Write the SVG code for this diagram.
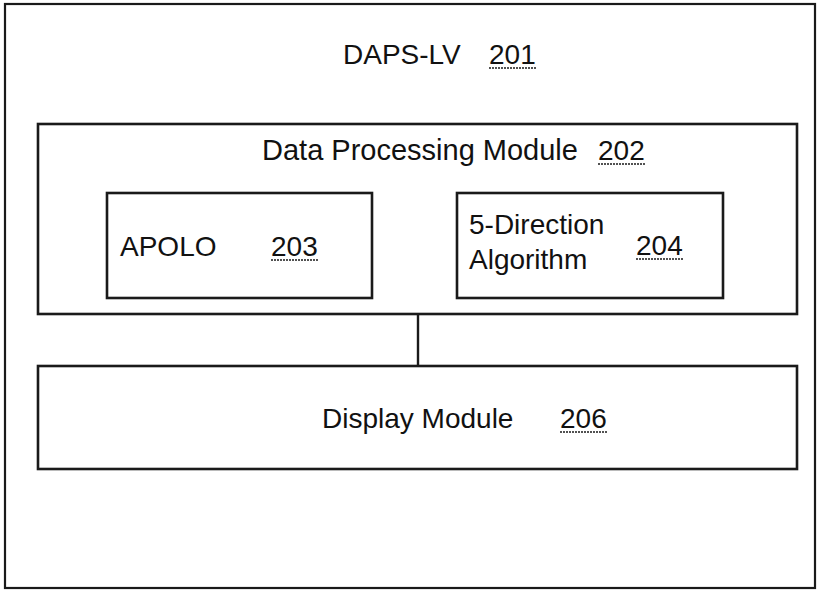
<svg xmlns="http://www.w3.org/2000/svg" width="817" height="590" viewBox="0 0 817 590">
<style>
.box{fill:none;stroke:#1a1a1a;stroke-width:2.6}
.outer{fill:none;stroke:#1a1a1a;stroke-width:2.2}
.t{font-family:"Liberation Sans",Arial,sans-serif;font-size:28px;fill:#111}
.u{stroke:#1a1a1a;stroke-width:1.6;stroke-dasharray:2 1}
.conn{stroke:#1a1a1a;stroke-width:2.4;fill:none}
</style>
<rect width="817" height="590" fill="#fff"/>
<g id="daps-lv">
<rect class="outer" x="5" y="4" width="810" height="584"/>
<text class="t" x="343" y="64">DAPS-LV</text>
<text class="t" x="489" y="64">201</text>
<line class="u" x1="489" y1="68" x2="536" y2="68"/>
</g>
<g id="data-processing-module">
<rect class="box" x="38" y="124" width="759" height="190"/>
<text class="t" x="262" y="160" style="font-size:29px">Data Processing Module</text>
<text class="t" x="598" y="160">202</text>
<line class="u" x1="598" y1="164" x2="645" y2="164"/>
</g>
<g id="apolo">
<rect class="box" x="107" y="193" width="265" height="105"/>
<text class="t" x="120" y="256">APOLO</text>
<text class="t" x="271" y="256">203</text>
<line class="u" x1="271" y1="260" x2="318" y2="260"/>
</g>
<g id="five-direction">
<rect class="box" x="457" y="193" width="266" height="105"/>
<text class="t" x="469" y="234">5-Direction</text>
<text class="t" x="469" y="269">Algorithm</text>
<text class="t" x="636" y="255">204</text>
<line class="u" x1="636" y1="259" x2="683" y2="259"/>
</g>
<g id="display-module">
<rect class="box" x="38" y="366" width="759" height="103"/>
<text class="t" x="322" y="428">Display Module</text>
<text class="t" x="560" y="428">206</text>
<line class="u" x1="560" y1="432" x2="607" y2="432"/>
</g>
<g id="connectors">
<line class="conn" x1="418" y1="314" x2="418" y2="366"/>
</g>
</svg>
